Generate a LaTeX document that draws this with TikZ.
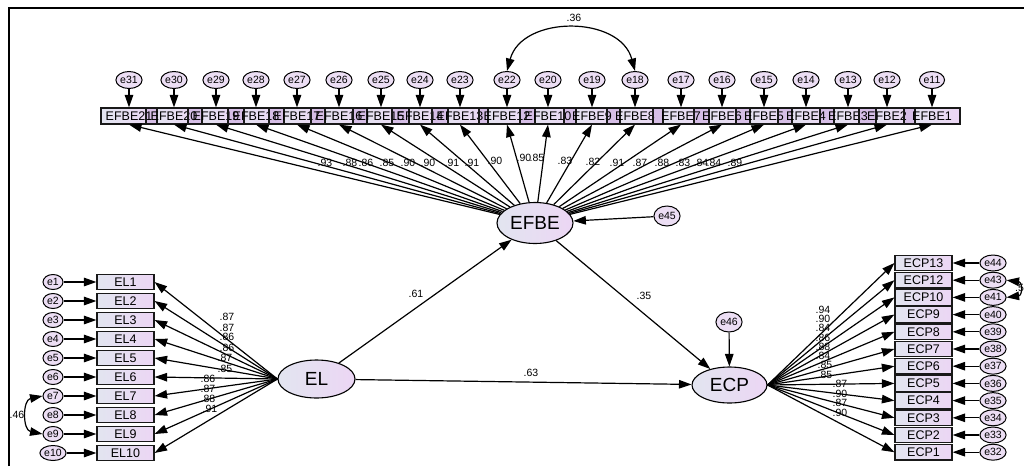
\documentclass[tikz,border=0pt]{standalone}
\usepackage{fontspec}
\setmainfont{Liberation Sans}
\usetikzlibrary{shapes.geometric,arrows.meta}
\pgfdeclarelayer{bg}
\pgfdeclarelayer{mid}
\pgfsetlayers{bg,mid,main}
\definecolor{lc}{RGB}{226,229,240}
\definecolor{rc}{RGB}{236,214,244}
\definecolor{ec}{RGB}{236,222,244}
\definecolor{oc}{RGB}{214,190,230}
\begin{document}
\begin{tikzpicture}[x=1pt,y=-1pt,
  >={Triangle[length=12.5pt,width=8.5pt]},
  conn/.style={line width=1.2pt,->},
  corr/.style={line width=1.2pt,<->},
  obs/.style={draw=black!90,line width=1.2pt,minimum width=57pt,minimum height=15.5pt,inner sep=0pt,
     font=\fontsize{12.5}{12.5}\selectfont,left color=lc,right color=rc},
  efb/.style={draw=black!90,line width=1.2pt,minimum width=56pt,minimum height=16pt,inner sep=0pt,
     font=\fontsize{12.5}{12.5}\selectfont},
  err/.style={ellipse,draw,line width=1pt,fill=ec,minimum width=21pt,minimum height=16pt,inner sep=0.5pt,
     font=\fontsize{10.5}{10.5}\selectfont},
  lat/.style={ellipse,draw,line width=1.1pt,left color=lc,right color=rc,inner sep=0pt,
     font=\fontsize{19}{19}\selectfont},
  ld/.style={font=\fontsize{10.5}{10.5}\selectfont,inner sep=0pt}]
\useasboundingbox (0,0) rectangle (1024,466);
\begin{pgfonlayer}{bg}
\fill[white] (0,0) rectangle (1024,466);
\end{pgfonlayer}
\draw[line width=1.6pt] (9,466) -- (9,8) -- (1024,8);

% latent variables
\node[lat,minimum width=76pt,minimum height=41pt] (EFBE) at (535,223) {EFBE};
\node[lat,minimum width=77pt,minimum height=38pt] (EL) at (316.5,379) {EL};
\node[lat,minimum width=75pt,minimum height=36pt] (ECP) at (729.5,385) {ECP};

% EFBE indicators
\foreach \x/\n/\e/\l/\lx/\ly in {129/21/31/.93/325/163, 174/20/30/.88/350/163, 216/19/29/.86/366/163,
   256/18/28/.85/387/163, 297/17/27/.90/408/163, 339/16/26/.90/428/163, 381/15/25/.91/452/163,
   420/14/24/.91/472/163, 460/13/23/.90/495/161, 507/12/22/.90/524/158, 548/10/20/.85/537/158,
   592/9/19/.83/565/161, 635/8/18/.82/593/162, 681/7/17/.91/617/163, 722/6/16/.87/640/163,
   764/5/15/.88/662/163, 806/4/14/.83/683/163, 848/3/13/.84/701/163, 887/2/12/.84/714/163,
   932/1/11/.89/735/163} {
  \node[efb] (B\n) at (\x,116) {EFBE\n};
  \begin{pgfonlayer}{bg}
  \fill[left color=lc,right color=rc] (B\n.south west) rectangle (B\n.north east);
  \end{pgfonlayer}
  \node[err,minimum width=22pt,minimum height=17pt] (E\e) at (\x,80) {e\e};
  \draw[conn] (E\e) -- (B\n);
  \draw[conn] (EFBE) -- (B\n.south);
  \node[ld] (LB\n) at (\lx,\ly) {\l};
}
\begin{pgfonlayer}{mid}
\foreach \a/\b in {21/20,20/19,19/18,18/17,17/16,16/15,15/14,14/13,13/12,12/10,10/9,9/8,8/7,7/6,6/5,5/4,4/3,3/2,2/1} {
  \fill[oc] (B\b.south west) rectangle (B\a.north east);
}
\end{pgfonlayer}

% EFBE disturbance and correlation
\node[err,minimum width=22pt,minimum height=20pt] (e45) at (667,216) {e45};
\draw[conn] (e45) -- (EFBE);
\draw[corr] (E22.north) .. controls +(15,-56) and +(-15,-56) .. (E18.north);
\node[ld] (c36) at (574,18) {.36};

% EL indicators
\foreach \i/\y/\l/\lx/\ly in {1/282/.87/227/317, 2/301/.87/227/328, 3/320/.86/227/337, 4/339/.86/227/348,
   5/358/.87/225/358, 6/377/.85/225/369, 7/396/.86/208/379, 8/415/.87/208/389, 9/434/.88/208/399,
   10/453/.91/210/409} {
  \node[obs] (EL\i) at (125.5,\y) {EL\i};
  \node[err,minimum width=20pt,minimum height=15pt] (e\i) at (53,\y) {e\i};
  \draw[conn] (e\i) -- (EL\i);
  \draw[conn] (EL.west) -- (EL\i.east);
  \node[ld] (LEL\i) at (\lx,\ly) {\l};
}
\draw[corr] (e7.west) .. controls +(-20,4) and +(-20,-4) .. (e9.west);
\node[ld] (c46) at (17,415) {.46};

% ECP indicators
\foreach \n/\e/\y/\l/\lx/\ly in {13/44/263/.94/823/310, 12/43/280.2/.90/823/319, 10/41/297.4/.84/823/328,
   9/40/314.6/.86/823/338, 8/39/331.8/.88/823/347, 7/38/349/.84/823/356, 6/37/366.2/.85/825/365,
   5/36/383.4/.85/825/375, 4/35/400.6/.87/840/384, 3/34/417.8/.90/840/394, 2/33/435/.87/840/403,
   1/32/452.2/.90/840/413} {
  \node[obs] (ECP\n) at (923.5,\y) {ECP\n};
  \node[err] (e\e) at (993,\y) {e\e};
  \draw[conn] (e\e) -- (ECP\n);
  \draw[conn] (ECP.east) -- (ECP\n.west);
  \node[ld] (LECP\n) at (\lx,\ly) {\l};
}
\draw[corr] (e43.east) .. controls +(16,2) and +(16,-2) .. (e41.east);
\node[ld,anchor=west] (c55) at (1015,288) {.5};

% ECP disturbance
\node[err,minimum width=22pt,minimum height=20pt] (e46) at (729,322) {e46};
\draw[conn] (e46) -- (ECP);

% structural paths
\draw[conn] (EL) -- (EFBE);
\draw[conn] (EFBE) -- (ECP);
\draw[conn] (EL) -- (ECP);
\node[ld] (p61) at (416,294) {.61};
\node[ld] (p35) at (644,296) {.35};
\node[ld] (p63) at (531,373) {.63};
\end{tikzpicture}
\end{document}
